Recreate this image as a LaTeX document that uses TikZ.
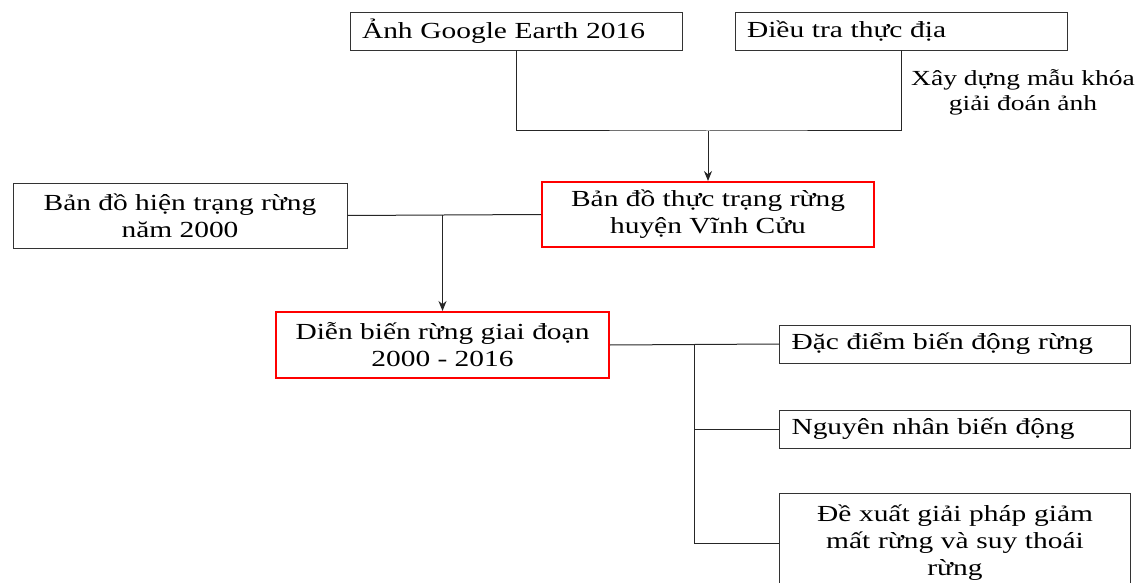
\documentclass[tikz,border=0pt]{standalone}
\usepackage{fontspec}
\setmainfont{Liberation Serif}[FakeStretch=1.28]
\usetikzlibrary{arrows.meta}

\begin{document}
\begin{tikzpicture}[x=1pt, y=-1pt,
    font=\fontsize{23}{27}\selectfont,
    box/.style={draw=black!80, line width=0.9pt, rectangle, inner xsep=12pt, inner ysep=0pt},
    redbox/.style={draw=red, line width=2pt, rectangle, inner sep=0pt, align=center},
    link/.style={draw=black!85, line width=1pt},
    arr/.style={link, -{Stealth[length=10pt, width=8pt]}}]
    \useasboundingbox (0,0) rectangle (1136,583);
    % top sources
    \node[box, minimum width=332pt, minimum height=38pt, text width=308pt, align=left] (anh) at (516,31) {Ảnh Google Earth 2016};
    \node[box, minimum width=332pt, minimum height=38pt, text width=308pt, align=left] (dieutra) at (901,31) {Điều tra thực địa};
    \node[align=center, font=\fontsize{21.5}{25}\selectfont] (mau) at (1023,92) {Xây dựng mẫu khóa\\giải đoán ảnh};
    % maps
    \node[redbox, minimum width=332pt, minimum height=65pt] (thuctrang) at (708,214.5) {Bản đồ thực trạng rừng\\huyện Vĩnh Cửu};
    \node[box, minimum width=334pt, minimum height=65pt, align=center] (hientrang) at (180,215.5) {Bản đồ hiện trạng rừng\\năm 2000};
    \node[redbox, minimum width=333pt, minimum height=66pt] (dienbien) at (442.5,345) {Diễn biến rừng giai đoạn\\2000 - 2016};
    % results
    \node[box, minimum width=351pt, minimum height=38pt, text width=327pt, align=left] (dacdiem) at (955,344) {Đặc điểm biến động rừng};
    \node[box, minimum width=351pt, minimum height=38pt, text width=327pt, align=left] (nguyennhan) at (955,429) {Nguyên nhân biến động};
    \node[box, minimum width=351pt, minimum height=100pt, text width=327pt, align=center] (dexuat) at (955,543) {Đề xuất giải pháp giảm\\mất rừng và suy thoái\\rừng};
    % connectors
    \coordinate (join) at (708,131);
    \draw[link] (anh.south) |- (join) -| (dieutra.south);
    \draw[arr] (join) -- (thuctrang.north);
    \coordinate (split) at (442.5,215);
    \draw[link] (hientrang.east) -- (thuctrang.west);
    \draw[arr] (split) -- (dienbien.north);
    \coordinate (bus) at (694,344);
    \draw[link] (dienbien.east) -- (dacdiem.west);
    \draw[link] (bus) |- (nguyennhan.west);
    \draw[link] (bus) |- (dexuat.west);
\end{tikzpicture}
\end{document}
